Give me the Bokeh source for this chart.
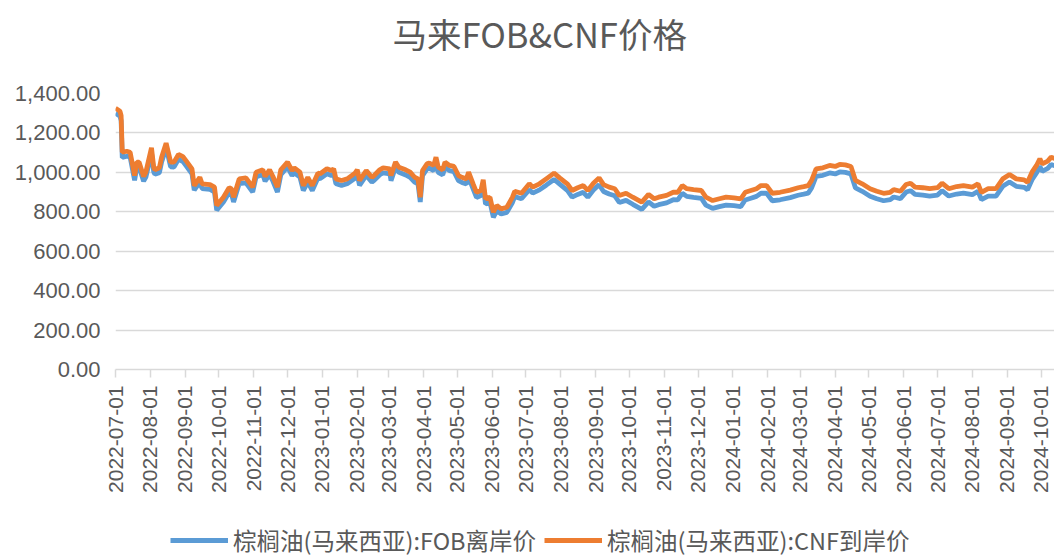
import math
import pandas as pd
from bokeh.plotting import figure
from bokeh.layouts import column
from bokeh.models import (FixedTicker, DatetimeTickFormatter, NumeralTickFormatter,
                          Legend, LegendItem, Range1d, ColumnDataSource, Label)
from bokeh.embed import file_html
from bokeh.resources import INLINE

title_text = "马来FOB&CNF价格"
series_names = ["棕榈油(马来西亚):FOB离岸价", "棕榈油(马来西亚):CNF到岸价"]

dates = [
    "2022-07-01", "2022-07-05", "2022-07-06", "2022-07-07", "2022-07-11", "2022-07-14", "2022-07-18",
    "2022-07-20", "2022-07-22", "2022-07-26", "2022-07-28", "2022-08-02", "2022-08-04", "2022-08-05",
    "2022-08-09", "2022-08-11", "2022-08-15", "2022-08-17", "2022-08-19", "2022-08-22", "2022-08-26",
    "2022-08-30", "2022-09-02", "2022-09-07", "2022-09-09", "2022-09-14", "2022-09-16", "2022-09-23",
    "2022-09-27", "2022-09-29", "2022-10-05", "2022-10-10", "2022-10-12", "2022-10-14", "2022-10-19",
    "2022-10-25", "2022-10-31", "2022-11-03", "2022-11-09", "2022-11-11", "2022-11-15", "2022-11-18",
    "2022-11-22", "2022-11-25", "2022-12-01", "2022-12-05", "2022-12-07", "2022-12-12", "2022-12-15",
    "2022-12-19", "2022-12-23", "2022-12-28", "2022-12-30", "2023-01-05", "2023-01-09", "2023-01-11",
    "2023-01-13", "2023-01-18", "2023-01-23", "2023-01-30", "2023-02-01", "2023-02-03", "2023-02-09",
    "2023-02-14", "2023-02-16", "2023-02-21", "2023-02-24", "2023-03-02", "2023-03-03", "2023-03-07",
    "2023-03-10", "2023-03-16", "2023-03-20", "2023-03-24", "2023-03-27", "2023-03-29", "2023-03-31",
    "2023-04-04", "2023-04-06", "2023-04-10", "2023-04-12", "2023-04-14", "2023-04-18", "2023-04-20",
    "2023-04-24", "2023-04-28", "2023-05-02", "2023-05-05", "2023-05-09", "2023-05-11", "2023-05-15",
    "2023-05-18", "2023-05-22", "2023-05-24", "2023-05-26", "2023-05-30", "2023-06-02", "2023-06-05",
    "2023-06-09", "2023-06-14", "2023-06-19", "2023-06-21", "2023-06-27", "2023-07-04", "2023-07-07",
    "2023-07-13", "2023-07-19", "2023-07-26", "2023-07-31", "2023-08-07", "2023-08-11", "2023-08-16",
    "2023-08-21", "2023-08-25", "2023-08-30", "2023-09-04", "2023-09-08", "2023-09-13", "2023-09-18",
    "2023-09-22", "2023-09-28", "2023-10-04", "2023-10-12", "2023-10-18", "2023-10-23", "2023-10-27",
    "2023-11-03", "2023-11-09", "2023-11-13", "2023-11-17", "2023-11-21", "2023-11-27", "2023-12-04",
    "2023-12-08", "2023-12-14", "2023-12-20", "2023-12-26", "2024-01-02", "2024-01-08", "2024-01-12",
    "2024-01-17", "2024-01-22", "2024-01-26", "2024-01-31", "2024-02-05", "2024-02-12", "2024-02-21",
    "2024-02-28", "2024-03-04", "2024-03-08", "2024-03-11", "2024-03-15", "2024-03-21", "2024-03-27",
    "2024-04-01", "2024-04-05", "2024-04-10", "2024-04-15", "2024-04-19", "2024-04-25", "2024-05-02",
    "2024-05-08", "2024-05-14", "2024-05-20", "2024-05-23", "2024-05-29", "2024-06-03", "2024-06-07",
    "2024-06-11", "2024-06-18", "2024-06-24", "2024-07-01", "2024-07-05", "2024-07-11", "2024-07-18",
    "2024-07-24", "2024-08-01", "2024-08-06", "2024-08-09", "2024-08-15", "2024-08-22", "2024-08-28",
    "2024-09-03", "2024-09-09", "2024-09-16", "2024-09-19", "2024-09-23", "2024-09-27", "2024-09-30",
    "2024-10-02", "2024-10-07", "2024-10-10", "2024-10-14",
]

cnf = [
    1325, 1310, 1288, 1102, 1107, 1102, 984,
    1052, 1052, 979, 1001, 1125, 1026, 1013,
    1023, 1077, 1148, 1102, 1052, 1052, 1091,
    1080, 1057, 1018, 933, 975, 942, 938,
    925, 832, 874, 922, 917, 874, 967,
    972, 925, 1001, 1013, 979, 1013, 979,
    925, 1013, 1052, 1009, 1023, 1001, 933,
    975, 933, 996, 993, 1018, 1009, 1018,
    967, 959, 967, 996, 1013, 959, 1009,
    975, 984, 1013, 1023, 1018, 984, 1052,
    1026, 1013, 1001, 975, 967, 874, 1009,
    1043, 1047, 1035, 1077, 1026, 1013, 1052,
    1035, 1030, 984, 975, 967, 1001, 942,
    899, 908, 962, 866, 874, 798, 832,
    815, 823, 874, 904, 894, 942, 925,
    942, 967, 996, 972, 940, 908, 922,
    933, 908, 945, 972, 938, 925, 917,
    883, 894, 874, 849, 888, 866, 874,
    883, 899, 899, 933, 917, 912, 908,
    874, 857, 866, 874, 871, 866, 899,
    908, 917, 933, 933, 894, 899, 910,
    922, 928, 933, 959, 1018, 1023, 1035,
    1030, 1040, 1038, 1030, 959, 942, 917,
    904, 894, 899, 912, 904, 938, 945,
    925, 922, 917, 922, 945, 917, 928,
    933, 925, 942, 899, 917, 917, 967,
    989, 967, 962, 950, 1001, 1035, 1069,
    1043, 1057, 1077, 1069,
]

fob = [
    1300, 1285, 1262, 1075, 1082, 1078, 960,
    1028, 1027, 955, 976, 1100, 1002, 990,
    998, 1052, 1122, 1078, 1028, 1027, 1066,
    1055, 1032, 993, 910, 950, 918, 914,
    901, 808, 850, 898, 893, 850, 943,
    947, 900, 977, 989, 955, 988, 955,
    900, 988, 1027, 984, 998, 976, 908,
    950, 908, 971, 968, 993, 984, 993,
    942, 934, 942, 970, 988, 934, 984,
    950, 959, 988, 997, 992, 958, 1026,
    1000, 987, 975, 950, 941, 850, 983,
    1017, 1021, 1009, 1050, 1000, 987, 1026,
    1009, 1004, 958, 949, 941, 975, 916,
    873, 882, 935, 840, 848, 772, 806,
    789, 797, 847, 877, 866, 912, 895,
    911, 935, 964, 940, 907, 874, 888,
    899, 874, 910, 937, 903, 890, 881,
    847, 858, 838, 812, 850, 828, 836,
    845, 861, 860, 894, 878, 873, 868,
    834, 817, 826, 834, 831, 826, 860,
    869, 878, 894, 894, 856, 861, 872,
    884, 890, 895, 921, 980, 985, 997,
    992, 1002, 1000, 992, 921, 904, 879,
    866, 856, 862, 875, 867, 900, 907,
    888, 885, 880, 885, 907, 880, 890,
    895, 887, 904, 862, 879, 880, 929,
    951, 929, 924, 912, 963, 997, 1031,
    1005, 1020, 1040, 1032,
]

month_ticks = [
    "2022-07-01", "2022-08-01", "2022-09-01", "2022-10-01", "2022-11-01", "2022-12-01",
    "2023-01-01", "2023-02-01", "2023-03-01", "2023-04-01", "2023-05-01", "2023-06-01",
    "2023-07-01", "2023-08-01", "2023-09-01", "2023-10-01", "2023-11-01", "2023-12-01",
    "2024-01-01", "2024-02-01", "2024-03-01", "2024-04-01", "2024-05-01", "2024-06-01",
    "2024-07-01", "2024-08-01", "2024-09-01", "2024-10-01",
]
y_ticks = [0, 200, 400, 600, 800, 1000, 1200, 1400]

FOB_COLOR = "#5B9BD5"
CNF_COLOR = "#ED7D31"
TEXT_COLOR = "#595959"
GRID_COLOR = "#D9D9D9"


def blank_strip(height):
    f = figure(width=1054, height=height, output_backend="svg", toolbar_location=None,
               x_range=Range1d(0, 1), y_range=Range1d(0, 1),
               min_border_left=0, min_border_right=0, min_border_top=0, min_border_bottom=0)
    f.axis.visible = False
    f.grid.grid_line_color = None
    f.outline_line_color = None
    f.background_fill_color = "white"
    f.border_fill_color = "white"
    return f


# ---- title strip ----
pt = blank_strip(60)
pt.add_layout(Label(x=277, y=28, x_units="screen", y_units="screen", text=title_text,
                    text_font="Noto Sans CJK SC", text_font_size="34.5px",
                    text_color=TEXT_COLOR, text_align="left", text_baseline="middle"))

# ---- main chart ----
src = ColumnDataSource(dict(date=pd.to_datetime(dates), fob=fob, cnf=cnf))

p = figure(width=1054, height=460, output_backend="svg", toolbar_location=None,
           x_axis_type="datetime",
           x_range=Range1d(pd.Timestamp("2022-07-01"), pd.Timestamp("2024-10-13")),
           y_range=Range1d(0, 1400),
           min_border_left=115, min_border_right=0, min_border_top=33, min_border_bottom=151)
p.outline_line_color = None
p.background_fill_color = "white"
p.border_fill_color = "white"

p.line("date", "fob", source=src, line_color=FOB_COLOR, line_width=4.8)
p.line("date", "cnf", source=src, line_color=CNF_COLOR, line_width=4.8)

tick_ms = [int(t) for t in (pd.to_datetime(month_ticks).astype("int64") // 10**6)]
p.xaxis.ticker = FixedTicker(ticks=tick_ms)
fmt = "%Y-%m-%d"
p.xaxis.formatter = DatetimeTickFormatter(days=fmt, months=fmt, years=fmt, hours=fmt,
                                          minutes=fmt, seconds=fmt, milliseconds=fmt,
                                          minsec=fmt, hourmin=fmt, microseconds=fmt)
p.xaxis.major_label_orientation = math.pi / 2
p.xaxis.axis_line_color = GRID_COLOR
p.xaxis.axis_line_width = 1.5
p.xaxis.major_tick_line_color = GRID_COLOR
p.xaxis.major_tick_line_width = 1.5
p.xaxis.major_tick_out = 8
p.xaxis.major_tick_in = 0
p.xaxis.minor_tick_line_color = None
p.xaxis.major_label_standoff = 8
p.xaxis.major_label_text_font = "Liberation Sans"
p.xaxis.major_label_text_font_size = "21px"
p.xaxis.major_label_text_color = TEXT_COLOR

p.yaxis.ticker = FixedTicker(ticks=y_ticks)
p.yaxis.formatter = NumeralTickFormatter(format="0,0.00")
p.yaxis.axis_line_color = None
p.yaxis.major_tick_line_color = None
p.yaxis.minor_tick_line_color = None
p.yaxis.major_tick_out = 0
p.yaxis.major_tick_in = 0
p.yaxis.major_label_standoff = 15
p.yaxis.major_label_text_font = "Liberation Sans"
p.yaxis.major_label_text_font_size = "22px"
p.yaxis.major_label_text_color = TEXT_COLOR

p.xgrid.grid_line_color = None
p.ygrid.grid_line_color = GRID_COLOR
p.ygrid.grid_line_width = 1.5

# ---- legend strip ----
pl = blank_strip(36)
l1 = pl.line(x=[-5, -4], y=[-5, -5], line_color=FOB_COLOR, line_width=5)
l2 = pl.line(x=[-5, -4], y=[-5, -5], line_color=CNF_COLOR, line_width=5)
legend = Legend(items=[LegendItem(label=series_names[0], renderers=[l1]),
                       LegendItem(label=series_names[1], renderers=[l2])],
                orientation="horizontal", location=(55, -1))
legend.label_text_font = "Noto Sans CJK SC"
legend.label_text_font_size = "23.5px"
legend.label_text_color = TEXT_COLOR
legend.glyph_width = 58
legend.glyph_height = 20
legend.label_standoff = 5
legend.spacing = 8
legend.padding = 0
legend.margin = 0
legend.border_line_color = None
legend.background_fill_alpha = 0
pl.add_layout(legend, "center")

layout = column(pt, p, pl, spacing=0)
open("out.html", "w").write(file_html(layout, INLINE))
